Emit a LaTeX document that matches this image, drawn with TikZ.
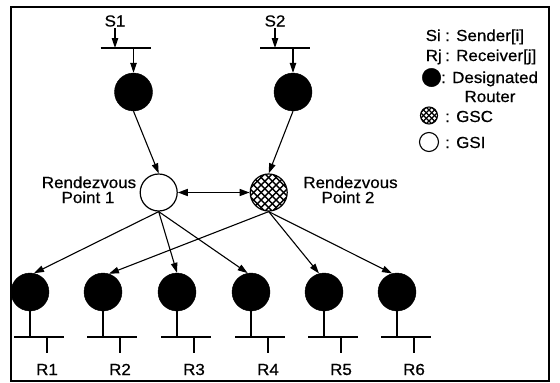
\documentclass[tikz,border=0pt]{standalone}
\usepackage{fontspec}
\setmainfont{Liberation Sans}[FakeStretch=1.06,FakeBold=0.6]
\usetikzlibrary{arrows.meta,calc}
\begin{document}
\begin{tikzpicture}[x=1pt,y=-1pt,
  txt/.style={inner sep=0pt, font=\fontsize{16}{16}\selectfont, anchor=base},
  arr/.style={line width=1.1pt, -{Triangle[length=10pt,width=6.5pt]}},
  dbl/.style={line width=1.5pt, {Triangle[length=10pt,width=7pt]}-{Triangle[length=10pt,width=7pt]}},
  dr/.style={circle, draw, fill=black, minimum size=38pt, inner sep=0pt},
  gsi/.style={circle, draw, line width=1.2pt, minimum size=37pt, inner sep=0pt},
  hatch/.style n args={2}{path picture={
    \foreach \k in {-9,...,9}{
      \draw[line width=#2] ($(path picture bounding box.center)+(\k*#1-30pt,-30pt)$) -- ++(60pt,60pt);
      \draw[line width=#2] ($(path picture bounding box.center)+(\k*#1-30pt,30pt)$) -- ++(60pt,-60pt);
    }}},
  bar/.style={line width=1.1pt},
]
\useasboundingbox (0,0) rectangle (560,383);
\draw[line width=1.2pt] (11,7) rectangle (549,381);

% senders and their designated routers
\node[dr] (d1) at (133.5,92) {};
\node[dr] (d2) at (293,92) {};
\node[txt] (s1) at (115,26.5) {S1};
\node[txt] (s2) at (275,26.5) {S2};
\coordinate (b1) at (133.5,48);
\coordinate (b2) at (293,48);
\draw[bar] ($(b1)+(-33,0)$) -- ($(b1)+(17,0)$);
\draw[bar] ($(b2)+(-33,0)$) -- ($(b2)+(17,0)$);
\draw[arr, shorten <=1.5pt] (s1.south) -- (s1.south |- b1);
\draw[arr, shorten <=1.5pt] (s2.south) -- (s2.south |- b2);
\draw[arr] (b1) -- (d1.north);
\draw[arr] (b2) -- (d2.north);

% rendezvous points
\node[gsi] (rp1) at (158.7,192.5) {};
\node[gsi, hatch={7.5pt}{1.4pt}] (rp2) at (268.7,192.5) {};
\node[txt] (rp1a) at (89,188) {Rendezvous};
\node[txt] (rp1b) at (88,203) {Point 1};
\node[txt] (rp2a) at (350.5,188) {Rendezvous};
\node[txt] (rp2b) at (348,203) {Point 2};
\draw[arr] (d1.south) -- (rp1.north);
\draw[arr] (d2.south) -- (rp2.north);
\draw[dbl] (rp1) -- (rp2);

% receivers
\foreach \i/\x in {1/30,2/103,3/177,4/251,5/324,6/397} {
  \node[dr] (r\i) at (\x,292) {};
  \coordinate (rb\i) at (\x,337);
  \draw[bar] (r\i.south) -- (rb\i);
  \draw[bar] ($(rb\i)+(-16,0)$) -- ($(rb\i)+(34,0)$);
  \node[txt] (rl\i) at (\x+17,375) {R\i};
  \draw[bar] ($(rb\i)+(17,0)$) -- ($(rb\i)+(17,16)$);
}
\draw[arr] (rp1.south) -- (r1.78);
\draw[arr] (rp1.south) -- (r3.north);
\draw[arr] (rp1.south) -- (r4.100);
\draw[arr] (rp2.south) -- (r2.72);
\draw[arr] (rp2.south) -- (r5.105);
\draw[arr] (rp2.south) -- (r6.105);

% legend
\node[txt, anchor=base east] (lsi) at (441,41) {Si};
\node[txt, anchor=base west] (lsi2) at (445,41) {: Sender[i]};
\node[txt, anchor=base east] (lrj) at (442,61) {Rj};
\node[txt, anchor=base west] (lrj2) at (445,61) {: Receiver[j]};
\node[dr, minimum size=18.5pt] (ldr) at (431.5,77.5) {};
\node[txt, anchor=base west] (ldr2) at (441,83) {: Designated};
\node[txt] (ldr3) at (490,102) {Router};
\node[circle, draw, line width=1.1pt, minimum size=17pt, inner sep=0pt, hatch={5.5pt}{1.1pt}] (lgsc) at (429,115.5) {};
\node[txt, anchor=base west] (lgsc2) at (445,122) {: GSC};
\node[circle, draw, line width=1.1pt, minimum size=19pt, inner sep=0pt] (lgsi) at (429,142) {};
\node[txt, anchor=base west] (lgsi2) at (445,148) {: GSI};
\end{tikzpicture}
\end{document}
